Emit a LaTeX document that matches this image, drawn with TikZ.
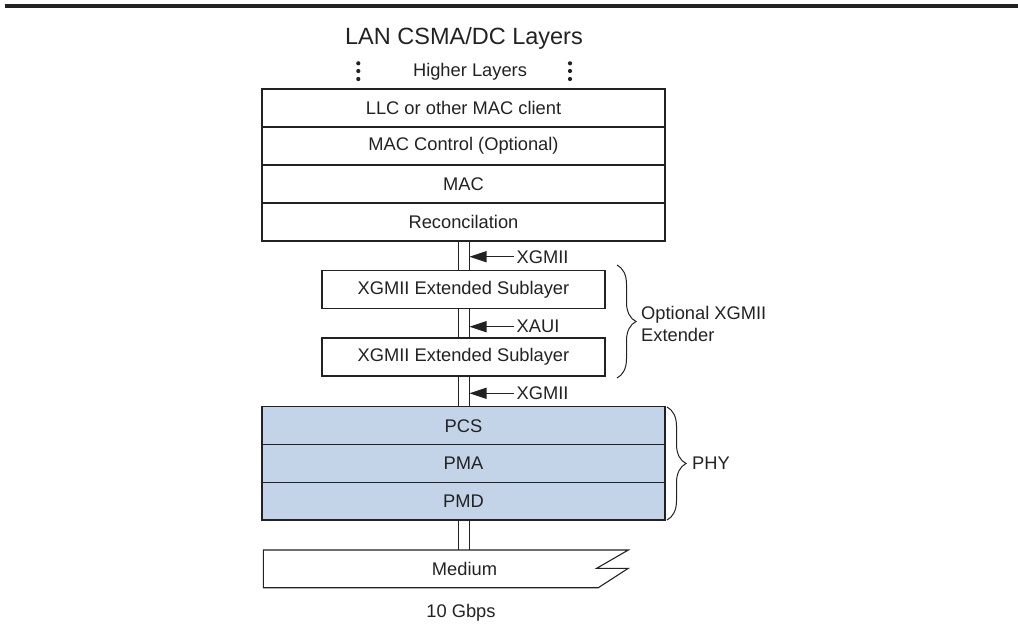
\documentclass[tikz,border=0pt]{standalone}
\usepackage{fontspec}
\setmainfont{Liberation Sans}
\usetikzlibrary{arrows.meta,decorations.pathreplacing}
\definecolor{phyblue}{HTML}{C4D4E8}
\definecolor{ink}{HTML}{222222}
\begin{document}
\begin{tikzpicture}[x=1pt,y=-1pt,
  txt/.style={inner sep=0pt, text=ink, font=\fontsize{18.3}{22}\selectfont},
  lay/.style={txt, draw=ink, line width=1.1pt, minimum width=403pt, minimum height=38pt},
  extbox/.style={lay, minimum width=283pt},
  phylay/.style={lay, fill=phyblue, minimum height=37.7pt},
  pipe/.style={draw=ink, line width=1pt},
  arr/.style={draw=ink, line width=1.1pt, -{Triangle[length=17pt,width=11pt]}},
  brc/.style={draw=ink, line width=1pt, decorate, decoration={brace, amplitude=19pt}},
  dot/.style={fill=ink}
]
\useasboundingbox (0,0) rectangle (1018,638);
\draw[line width=3.5pt, ink] (5,6) -- (1018,6);

\node[txt, font=\fontsize{23.5}{26}\selectfont] (title) at (464,38) {LAN CSMA/DC Layers};
\node[txt] (higher) at (470,72) {Higher Layers};
\foreach \yy in {63.3,71,79} {
  \fill[dot] (358.3,\yy) circle (2.1);
  \fill[dot] (570,\yy) circle (2.1);
}

\node[lay] (llc) at (463.5,108) {LLC or other MAC client};
\node[lay] (macc) at (463.5,146) {MAC Control (Optional)};
\node[lay] (mac) at (463.5,184) {MAC};
\node[lay] (rec) at (463.5,222) {Reconcilation};

\node[extbox] (ext1) at (463.5,289.5) {XGMII Extended Sublayer};
\node[extbox] (ext2) at (463.5,357) {XGMII Extended Sublayer};

\node[phylay] (pcs) at (463.5,425.7) {PCS};
\node[phylay] (pma) at (463.5,463.4) {PMA};
\node[phylay] (pmd) at (463.5,501.1) {PMD};

% medium
\draw[ink, line width=1.1pt] (263.3,550) -- (628.3,550) -- (596.7,568.3) -- (628.3,568.3) -- (598.3,587.7) -- (263.3,587.7) -- cycle;
\coordinate (medtop) at (463.5,550);
\node[txt] (medium) at (464.5,569) {Medium};
\node[txt] (rate) at (461,613) {10 Gbps};

% pipes
\foreach \a/\b in {rec.south/ext1.north, ext1.south/ext2.north, ext2.south/pcs.north, pmd.south/medtop} {
  \draw[pipe] ([xshift=-5.5pt]\a) -- ([xshift=-5.5pt]\b);
  \draw[pipe] ([xshift=5.5pt]\a) -- ([xshift=5.5pt]\b);
}

% interface labels and arrows
\node[txt, anchor=west] (x1) at (516.5,256.7) {XGMII};
\node[txt, anchor=west] (x2) at (516.5,326.7) {XAUI};
\node[txt, anchor=west] (x3) at (516.5,393.3) {XGMII};
\coordinate (p1) at (469.5,256.7);
\coordinate (p2) at (469.5,326.7);
\coordinate (p3) at (469.5,393.3);
\draw[arr] ([xshift=-3pt]x1.west) -- (p1);
\draw[arr] ([xshift=-3pt]x2.west) -- (p2);
\draw[arr] ([xshift=-3pt]x3.west) -- (p3);

% braces
\coordinate (b1t) at (617,265);
\coordinate (b1b) at (617,378);
\draw[brc] (b1t) -- (b1b);
\node[txt, anchor=west, align=left] (opt) at (641,324) {Optional XGMII\\Extender};
\coordinate (b2t) at (667,407);
\coordinate (b2b) at (667,520);
\draw[brc] (b2t) -- (b2b);
\node[txt, anchor=west] (phy) at (692,463.5) {PHY};
\end{tikzpicture}
\end{document}
